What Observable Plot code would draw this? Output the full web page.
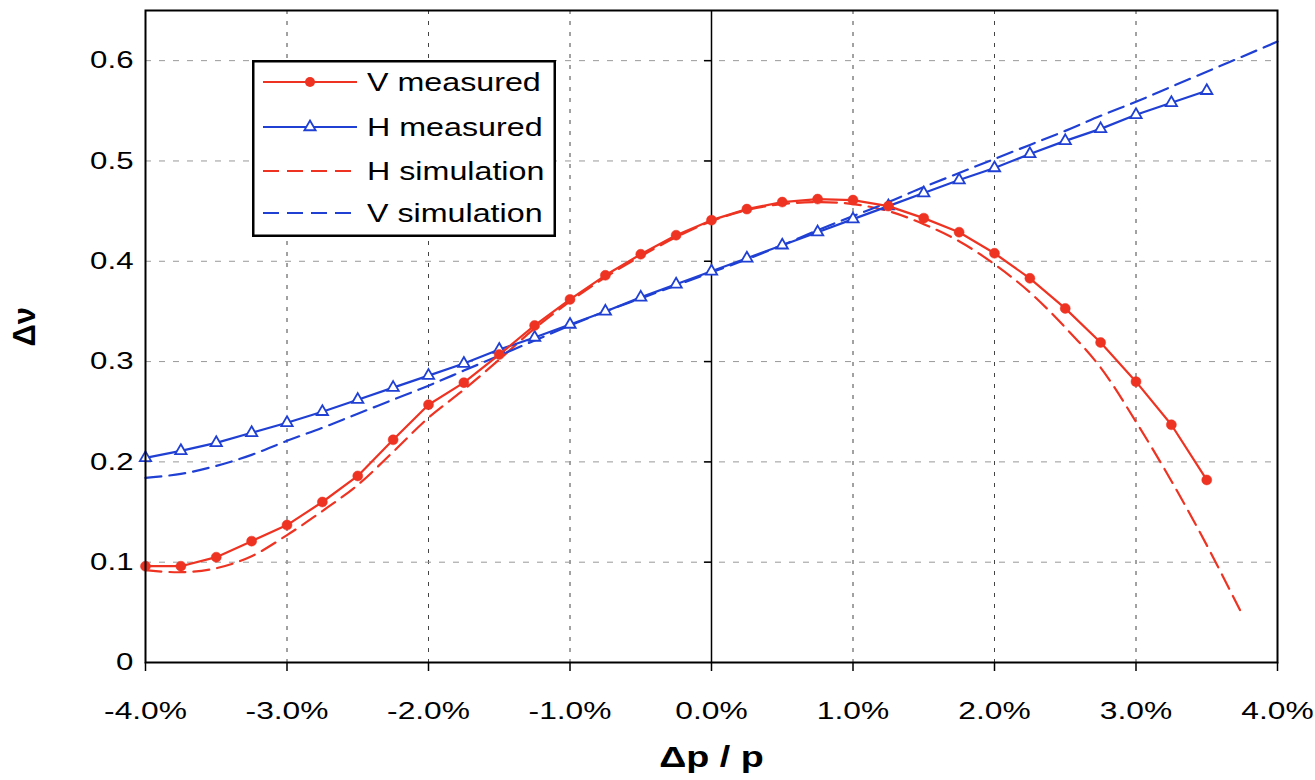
<!DOCTYPE html>
<html>
<head>
<meta charset="utf-8">
<script src="https://cdn.jsdelivr.net/npm/d3@7"></script>
<script src="https://cdn.jsdelivr.net/npm/@observablehq/plot@0.6"></script>
<style>
  html, body { margin: 0; padding: 0; background: white; }
  #wrap { position: relative; width: 1315px; height: 780px; }
  #legend { position: absolute; left: 252px; top: 60px; }
</style>
</head>
<body>
<div id="wrap"><div id="chart"></div><svg id="legend" width="304" height="177"></svg></div>
<script>
// ---- data ----
const xMeasured = [-4, -3.75, -3.5, -3.25, -3, -2.75, -2.5, -2.25, -2, -1.75, -1.5, -1.25, -1, -0.75, -0.5, -0.25,
  0, 0.25, 0.5, 0.75, 1, 1.25, 1.5, 1.75, 2, 2.25, 2.5, 2.75, 3, 3.25, 3.5];
const vMeasured = [0.096, 0.096, 0.105, 0.121, 0.137, 0.160, 0.186, 0.222, 0.257, 0.279, 0.307, 0.336, 0.362, 0.386, 0.407, 0.426,
  0.441, 0.452, 0.459, 0.462, 0.461, 0.455, 0.443, 0.429, 0.408, 0.383, 0.353, 0.319, 0.280, 0.237, 0.182];
const hMeasured = [0.204, 0.211, 0.219, 0.229, 0.239, 0.250, 0.262, 0.274, 0.286, 0.298, 0.312, 0.324, 0.337, 0.350, 0.364, 0.377,
  0.390, 0.403, 0.416, 0.429, 0.442, 0.455, 0.468, 0.481, 0.493, 0.507, 0.520, 0.532, 0.546, 0.558, 0.570];

const xHSim = [-4, -3.75, -3.5, -3.25, -3, -2.75, -2.5, -2.25, -2, -1.75, -1.5, -1.25, -1, -0.75, -0.5, -0.25,
  0, 0.25, 0.5, 0.75, 1, 1.25, 1.5, 1.75, 2, 2.25, 2.5, 2.75, 3, 3.25, 3.5, 3.75];
const hSimulation = [0.092, 0.090, 0.094, 0.106, 0.127, 0.151, 0.177, 0.210, 0.244, 0.272, 0.302, 0.333, 0.360, 0.384, 0.405, 0.424,
  0.440, 0.451, 0.457, 0.459, 0.457, 0.450, 0.437, 0.420, 0.397, 0.369, 0.334, 0.294, 0.240, 0.181, 0.117, 0.048];

const xVSim = [-4, -3.75, -3.5, -3.25, -3, -2.75, -2.5, -2.25, -2, -1.75, -1.5, -1.25, -1, -0.75, -0.5, -0.25,
  0, 0.25, 0.5, 0.75, 1, 1.25, 1.5, 1.75, 2, 2.25, 2.5, 2.75, 3, 3.25, 3.5, 3.75, 4];
const vSimulation = [0.184, 0.188, 0.196, 0.207, 0.221, 0.234, 0.248, 0.262, 0.276, 0.291, 0.306, 0.321, 0.336, 0.350, 0.363, 0.376,
  0.389, 0.402, 0.416, 0.431, 0.445, 0.459, 0.474, 0.488, 0.502, 0.516, 0.530, 0.545, 0.559, 0.574, 0.589, 0.604, 0.619];

const xTicks = [-4, -3, -2, -1, 0, 1, 2, 3, 4];
const yTicks = [0, 0.1, 0.2, 0.3, 0.4, 0.5, 0.6];
const seriesNames = ["V measured", "H measured", "H simulation", "V simulation"];
const xLabel = "Δp / p";
const yLabel = "Δν";

// ---- styles ----
const RED = "#ee3322";
const BLUE = "#2040d4";
const DASH = "16,8";

const vMeas = xMeasured.map((x, i) => ({x, y: vMeasured[i]}));
const hMeas = xMeasured.map((x, i) => ({x, y: hMeasured[i]}));
const hSim = xHSim.map((x, i) => ({x, y: hSimulation[i]}));
const vSim = xVSim.map((x, i) => ({x, y: vSimulation[i]}));

const chart = Plot.plot({
  width: 1315,
  height: 780,
  marginLeft: 145,
  marginRight: 38,
  marginTop: 10,
  marginBottom: 118,
  style: {fontFamily: "'Liberation Sans', Arial, sans-serif", background: "white", color: "black"},
  x: {domain: [-4, 4]},
  y: {domain: [0, 0.65]},
  marks: [
    Plot.gridX(xTicks.filter(d => d !== 0 && Math.abs(d) !== 4), {stroke: "#444", strokeOpacity: 1, strokeDasharray: "4,7", strokeWidth: 1}),
    Plot.gridY(yTicks.filter(d => d !== 0), {stroke: "#999", strokeOpacity: 1, strokeDasharray: "6,8", strokeWidth: 1}),
    Plot.ruleX([0], {stroke: "black", strokeWidth: 1.5}),
    Plot.ruleY(yTicks.filter(d => d !== 0), {y: d => d, x1: -0.05, x2: 0, stroke: "black", strokeWidth: 1.5}),
    Plot.line(hSim, {x: "x", y: "y", stroke: RED, strokeWidth: 2.2, strokeDasharray: DASH, curve: "catmull-rom"}),
    Plot.line(vSim, {x: "x", y: "y", stroke: BLUE, strokeWidth: 2.2, strokeDasharray: DASH, curve: "catmull-rom"}),
    Plot.line(hMeas, {x: "x", y: "y", stroke: BLUE, strokeWidth: 2.2}),
    Plot.dot(hMeas, {x: "x", y: "y", symbol: "triangle", r: 4.2, fill: "white", stroke: BLUE, strokeWidth: 1.8}),
    Plot.line(vMeas, {x: "x", y: "y", stroke: RED, strokeWidth: 2.2}),
    Plot.dot(vMeas, {x: "x", y: "y", r: 5, fill: RED, stroke: RED, strokeWidth: 0.5}),
    Plot.frame({stroke: "black", strokeWidth: 2}),
    Plot.axisX({ticks: xTicks, tickFormat: d => d.toFixed(1) + "%", tickSize: 9, tickPadding: 31, fontSize: 23, label: null, stroke: "black", strokeWidth: 1.5}),
    Plot.axisY({ticks: yTicks, tickFormat: d => d === 0 ? "0" : d.toFixed(1), tickSize: 0, tickPadding: 12, fontSize: 24, label: null}),
    Plot.text([xLabel], {frameAnchor: "bottom", dy: 104, fontSize: 29, fontWeight: "bold", text: d => d}),
    Plot.text([yLabel], {frameAnchor: "left", dx: -120, dy: 10, rotate: -90, fontSize: 31, fontWeight: "bold", text: d => d})
  ]
});
document.getElementById("chart").append(chart);

// stretch text horizontally to match the wide look of the reference
d3.select(chart).selectAll("text").each(function () {
  const txt = this.textContent;
  if (txt === yLabel) return;
  const parentLabel = this.parentNode.getAttribute("aria-label") || "";
  let k = 1.3;
  if (parentLabel.includes("x-axis")) k = 1.38;
  else if (parentLabel.includes("y-axis")) k = 1.3;
  const L = this.getComputedTextLength();
  this.setAttribute("textLength", (L * k).toFixed(1));
  this.setAttribute("lengthAdjust", "spacingAndGlyphs");
});

// ---- legend ----
const leg = d3.select("#legend");
leg.append("rect").attr("x", 1.25).attr("y", 1.25).attr("width", 301.5).attr("height", 174.5)
  .attr("fill", "white").attr("stroke", "black").attr("stroke-width", 2.5);
const rows = [22, 67, 111, 153];
const legStyles = [
  {color: RED, dash: null, marker: "circle"},
  {color: BLUE, dash: null, marker: "triangle"},
  {color: RED, dash: DASH, marker: null},
  {color: BLUE, dash: DASH, marker: null}
];
seriesNames.forEach((name, i) => {
  const y = rows[i], s = legStyles[i];
  const ln = leg.append("line").attr("x1", 11).attr("x2", 105).attr("y1", y).attr("y2", y)
    .attr("stroke", s.color).attr("stroke-width", 2.2);
  if (s.dash) ln.attr("stroke-dasharray", s.dash);
  if (s.marker === "circle") leg.append("circle").attr("cx", 58).attr("cy", y).attr("r", 5).attr("fill", s.color);
  if (s.marker === "triangle") leg.append("path").attr("d", d3.symbol(d3.symbolTriangle, 55)()).attr("transform", `translate(58,${y})`)
    .attr("fill", "white").attr("stroke", s.color).attr("stroke-width", 1.8);
  const t = leg.append("text").attr("x", 115).attr("y", y + 9).attr("font-size", 26)
    .attr("font-family", "'Liberation Sans', Arial, sans-serif").attr("fill", "black").text(name);
  const L = t.node().getComputedTextLength();
  t.attr("textLength", (L * 1.24).toFixed(1)).attr("lengthAdjust", "spacingAndGlyphs");
});
</script>
</body>
</html>
